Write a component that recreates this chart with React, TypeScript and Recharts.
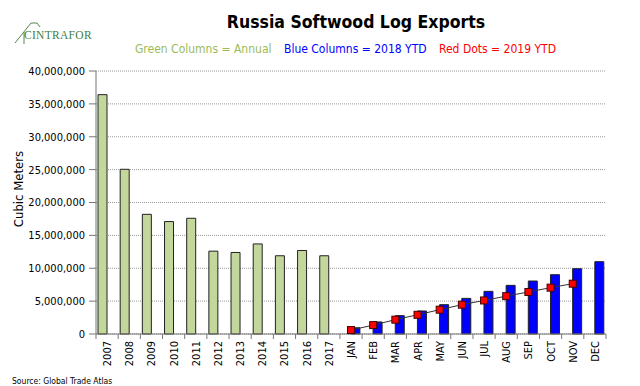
import React from 'react';
import { Bar, CartesianGrid, ComposedChart, Line, XAxis, YAxis } from 'recharts';

const years = ['2007', '2008', '2009', '2010', '2011', '2012', '2013', '2014', '2015', '2016', '2017'];
const months = ['JAN', 'FEB', 'MAR', 'APR', 'MAY', 'JUN', 'JUL', 'AUG', 'SEP', 'OCT', 'NOV', 'DEC'];

// cubic meters
const annual = [36400000, 25050000, 18200000, 17100000, 17600000, 12600000, 12400000, 13700000, 11900000, 12700000, 11900000];
const ytd2018 = [950000, 1830000, 2790000, 3500000, 4460000, 5420000, 6490000, 7400000, 8060000, 9020000, 9930000, 11000000];
const ytd2019 = [600000, 1350000, 2180000, 2920000, 3700000, 4460000, 5100000, 5760000, 6390000, 7050000, 7650000];

const yTicks = [0, 5000000, 10000000, 15000000, 20000000, 25000000, 30000000, 35000000, 40000000];

const data = [
  ...years.map((label, i) => ({ label, annual: annual[i], ytd2018: null, ytd2019: null })),
  ...months.map((label, i) => ({
    label,
    annual: null,
    ytd2018: ytd2018[i],
    ytd2019: i < ytd2019.length ? ytd2019[i] : null,
  })),
];

const W = 640;
const H = 386;
const margin = { top: 71, right: 34, bottom: 0, left: 26 };
const Y_W = 70;
const X_H = 52;
const PLOT_W = W - margin.left - margin.right - Y_W;
const FONT = '"DejaVu Sans Condensed", "DejaVu Sans", Tahoma, sans-serif';

const XTick = (props: any) => {
  const { x, y, payload, index } = props;
  const step = PLOT_W / data.length;
  return (
    <g>
      <line x1={x - step / 2} x2={x - step / 2} y1={y} y2={y + 5} stroke="#777" />
      {index === data.length - 1 && (
        <line x1={x + step / 2} x2={x + step / 2} y1={y} y2={y + 5} stroke="#777" />
      )}
      <text
        transform={`translate(${x + 4},${y + 7}) rotate(-90)`}
        textAnchor="end"
        fontSize={11}
        fontFamily={FONT}
        fill="#000"
      >
        {payload.value}
      </text>
    </g>
  );
};

const SquareDot = (props: any) => {
  const { cx, cy, index } = props;
  if (cx == null || cy == null || props.value == null) return <g key={index} />;
  return <rect key={index} x={cx - 3.5} y={cy - 3.5} width={7} height={7} fill="#FF0000" stroke="#400" strokeWidth={1} />;
};

export default function App() {
  return (
    <div style={{ position: 'absolute', left: 0, top: 0, width: W, height: H, background: '#fff' }}>
      <ComposedChart
        width={W}
        height={H}
        data={data}
        margin={margin}
        barGap={0}
        style={{ fontFamily: FONT }}
      >
        <CartesianGrid vertical={false} stroke="#999" strokeDasharray="1 1" />
        <XAxis
          dataKey="label"
          interval={0}
          height={X_H}
          tickSize={0}
          tickMargin={0}
          tickLine={false}
          axisLine={{ stroke: '#777' }}
          tick={<XTick />}
        />
        <YAxis
          width={Y_W}
          domain={[0, 40000000]}
          ticks={yTicks}
          interval={0}
          tickSize={7}
          tickMargin={4}
          tickLine={{ stroke: '#777' }}
          axisLine={{ stroke: '#777' }}
          tick={{ fontSize: 11, fill: '#000', fontFamily: FONT }}
          tickFormatter={(v: number) => v.toLocaleString('en-US')}
        />
        <Bar dataKey="annual" barSize={9} fill="#C3D69B" stroke="#222" strokeWidth={1} isAnimationActive={false} />
        <Bar dataKey="ytd2018" barSize={9} fill="#0000FF" stroke="#222" strokeWidth={1} isAnimationActive={false} />
        <Line
          dataKey="ytd2019"
          stroke="#333"
          strokeWidth={1}
          dot={<SquareDot />}
          activeDot={false}
          isAnimationActive={false}
        />
      </ComposedChart>
      <svg width={W} height={H} style={{ position: 'absolute', left: 0, top: 0, pointerEvents: 'none' }}>
        <polyline points="15,43 31,23 37,23 40,27" fill="none" stroke="#4E8A4E" strokeWidth={1} />
        <line x1={24} y1={32} x2={24} y2={44} stroke="#4E8A4E" strokeWidth={1} />
        <text x={24} y={39} fontFamily="'Liberation Serif', serif" fontSize={11.5} fill="#3F7F46" letterSpacing={0.3}>
          CINTRAFOR
        </text>
        <text x={356} y={28} textAnchor="middle" fontFamily={FONT} fontWeight="bold" fontSize={17.5} fill="#000">
          Russia Softwood Log Exports
        </text>
        <text x={135} y={53} fontFamily={FONT} fontSize={12} fill="#9BBB59">
          Green Columns = Annual
        </text>
        <text x={284} y={53} fontFamily={FONT} fontSize={12} fill="#0000FF">
          Blue Columns = 2018 YTD
        </text>
        <text x={439} y={53} fontFamily={FONT} fontSize={12} fill="#FF0000">
          Red Dots = 2019 YTD
        </text>
        <text
          transform="translate(23,189) rotate(-90)"
          textAnchor="middle"
          fontFamily={FONT}
          fontSize={13}
          fill="#000"
        >
          Cubic Meters
        </text>
        <text x={12} y={384} fontFamily={FONT} fontSize={8.5} fill="#000">
          Source: Global Trade Atlas
        </text>
      </svg>
    </div>
  );
}
